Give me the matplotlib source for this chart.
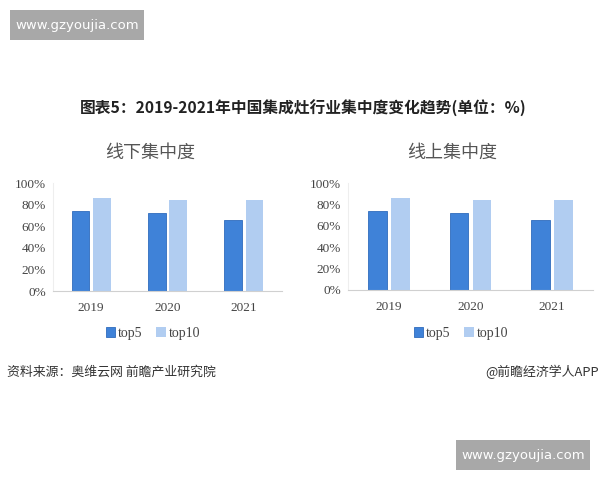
import numpy as np
import matplotlib.pyplot as plt
from matplotlib.patches import Rectangle

plt.rcParams['font.family'] = ['Noto Sans CJK SC', 'DejaVu Sans']

years = ['2019', '2020', '2021']
offline_top5 = [74, 72, 65.5]
offline_top10 = [86, 84, 84]
online_top5 = [74, 72, 65.5]
online_top10 = [86, 84, 84]

c_top5 = '#3f82d8'
c_top5_edge = '#2f6cbd'
c_top10 = '#b1cdf1'
serif = 'Liberation Serif'

fig = plt.figure(figsize=(6, 4.8), dpi=100)
fig.patch.set_facecolor('white')


def draw_panel(rect, title, top5, top10, cx, lx):
    ax = fig.add_axes(rect)
    x = np.arange(len(years))
    w = 0.23
    ax.bar(x - 0.14, top5, w, color=c_top5, edgecolor=c_top5_edge, linewidth=0.6, label='top5')
    ax.bar(x + 0.14, top10, w, color=c_top10, label='top10')
    ax.set_xlim(-0.5, 2.5)
    ax.set_ylim(0, 100)
    ax.set_yticks([0, 20, 40, 60, 80, 100])
    ax.set_yticklabels(['%d%%' % v for v in [0, 20, 40, 60, 80, 100]], family=serif, fontsize=9.5, color='#444444')
    ax.set_xticks(x)
    ax.set_xticklabels(years, family=serif, fontsize=9.5, color='#444444')
    ax.tick_params(length=0, pad=5)
    ax.tick_params(axis='x', pad=8)
    for s in ['top', 'right']:
        ax.spines[s].set_visible(False)
    ax.spines['bottom'].set_color('#d0d0d0')
    ax.spines['left'].set_color('#eeeeee')
    fig.text(cx, 1 - 153 / 480, title, ha='center', va='center', fontsize=13, color='#555555')
    h, l = ax.get_legend_handles_labels()
    leg = fig.legend(h, l, loc='center', bbox_to_anchor=(lx, 1 - 333 / 480), ncol=2, frameon=False,
                     prop={'family': serif, 'size': 10}, handlelength=0.7, handleheight=0.7,
                     handletextpad=0.2, columnspacing=1.0)
    for t in leg.get_texts():
        t.set_color('#444444')
    return ax


draw_panel([53 / 600, 1 - 291 / 480, 229 / 600, 108 / 480], '线下集中度', offline_top5, offline_top10,
           150 / 600, 153 / 600)
draw_panel([348 / 600, 1 - 290 / 480, 245 / 600, 107 / 480], '线上集中度', online_top5, online_top10,
           452 / 600, 461 / 600)

fig.text(0.505, 1 - 108 / 480, '图表5：2019-2021年中国集成灶行业集中度变化趋势(单位：%)',
         ha='center', va='center', fontsize=11.3, fontweight='bold', color='#222222')

fig.text(7 / 600, 1 - 372 / 480, '资料来源：奥维云网 前瞻产业研究院', ha='left', va='center',
         fontsize=9.3, color='#333333')
fig.text(599 / 600, 1 - 372 / 480, '@前瞻经济学人APP', ha='right', va='center',
         fontsize=9.3, color='#333333')

# site banners
for (x0, y0) in [(10, 10), (456, 440)]:
    fig.patches.append(Rectangle((x0 / 600, 1 - (y0 + 30) / 480), 134 / 600, 30 / 480,
                                 transform=fig.transFigure, facecolor='#a8a8a8', edgecolor='none'))
    fig.text((x0 + 67) / 600, 1 - (y0 + 15) / 480, 'www.gzyoujia.com', ha='center', va='center',
             fontsize=9.5, color='white', family='DejaVu Sans')

fig.savefig('out.png', dpi=100)
